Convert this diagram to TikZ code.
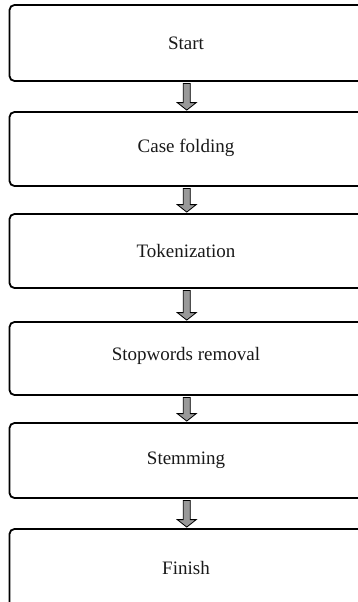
\documentclass[tikz,border=0pt]{standalone}
\usepackage{fontspec}
\setmainfont{Liberation Serif}
\usetikzlibrary{calc}
\begin{document}
\begin{tikzpicture}[x=1pt,y=-1pt,
  stepbox/.style={draw=black, line width=1.8pt, rounded corners=5pt, minimum width=354.5pt, inner sep=0pt},
  steptext/.style={font=\fontsize{19}{21}\selectfont, text=black!90, inner sep=0pt},
  blockarrow/.style={draw=black, line width=0.8pt, fill=black!40, line join=miter}]
\useasboundingbox (0,0) rectangle (358,602);
\clip (0,0) rectangle (358,602);
\node[stepbox, minimum height=76pt] (b1) at (186.75,43) {};
\node[steptext] at (186,43) (t1) {Start};
\node[stepbox, minimum height=74pt] (b2) at (186.75,149) {};
\node[steptext] at (186,148) (t2) {Case folding};
\node[stepbox, minimum height=74pt] (b3) at (186.75,251) {};
\node[steptext] at (186,251) (t3) {Tokenization};
\node[stepbox, minimum height=73pt] (b4) at (186.75,358.5) {};
\node[steptext] at (186,356) (t4) {Stopwords removal};
\node[stepbox, minimum height=75pt] (b5) at (186.75,460.5) {};
\node[steptext] at (186,460) (t5) {Stemming};
\node[stepbox, minimum height=78pt] (b6) at (186.75,568) {};
\node[steptext] at (186,568) (t6) {Finish};
\foreach \a/\b in {b1/b2,b2/b3,b3/b4,b4/b5,b5/b6}{
  \draw[blockarrow] let \p1=(\a.south), \p2=(\b.north) in
    (\x1-3.5pt,\y1-1.5pt) -- (\x1+3.5pt,\y1-1.5pt) -- (\x1+3.5pt,\y2+8.5pt) -- (\x1+9.5pt,\y2+8.5pt)
    -- (\x1,\y2+1pt) -- (\x1-9.5pt,\y2+8.5pt) -- (\x1-3.5pt,\y2+8.5pt) -- cycle;
}
\end{tikzpicture}
\end{document}
